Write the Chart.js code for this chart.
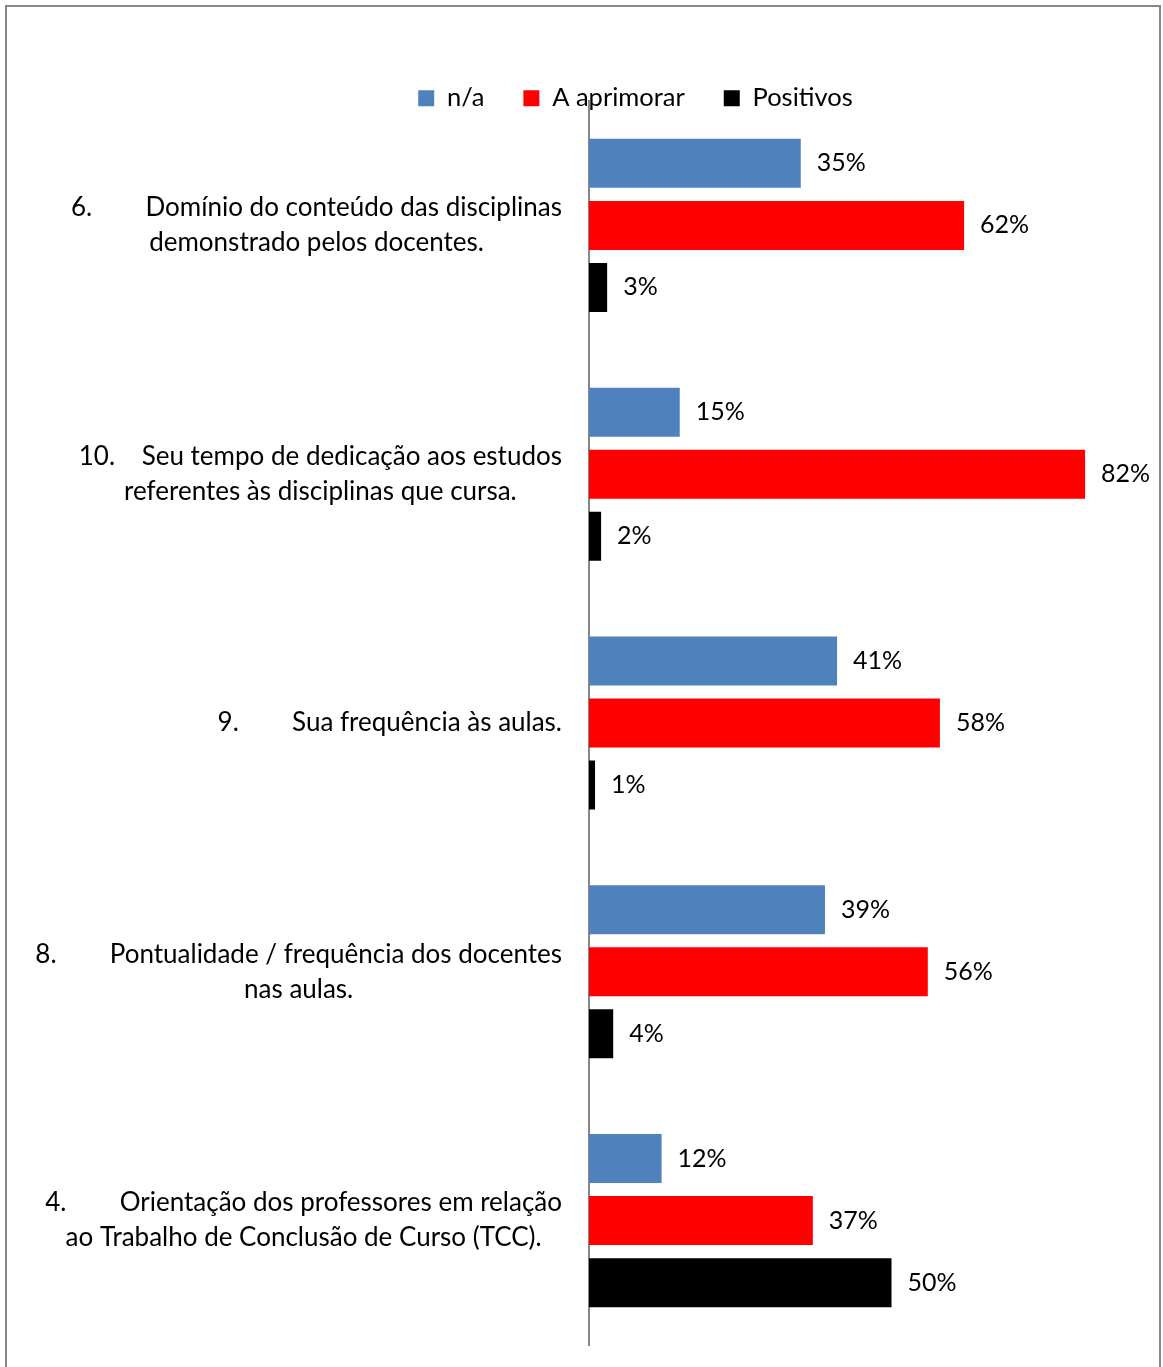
<!DOCTYPE html>
<html>
<head>
<meta charset="utf-8">
<script src="https://cdn.jsdelivr.net/npm/chart.js@4.4.0/dist/chart.umd.min.js"></script>
<style>
html, body { margin: 0; padding: 0; background: #fff; overflow: hidden; }
#frame { position: absolute; left: 5px; top: 5px; width: 1152px; height: 1400px; border: 2px solid #878787; border-bottom: none; }
#wrap { position: absolute; left: 0; top: 0; width: 1163px; height: 1367px; }
</style>
</head>
<body>
<div id="frame"></div>
<div id="wrap"><canvas id="myChart"></canvas></div>
<script>
// categories, top to bottom
var categories = [
    ["6.        Domínio do conteúdo das disciplinas", "demonstrado pelos docentes."],
    ["10.    Seu tempo de dedicação aos estudos", "referentes às disciplinas que cursa."],
    ["9.        Sua frequência às aulas."],
    ["8.        Pontualidade / frequência dos docentes", "nas aulas."],
    ["4.        Orientação dos professores em relação", "ao Trabalho de Conclusão de Curso (TCC)."]
];
var seriesNames = ["n/a", "A aprimorar", "Positivos"];
var naValues = [35, 15, 41, 39, 12];
var aprimorarValues = [62, 82, 58, 56, 37];
var positivosValues = [3, 2, 1, 4, 50];

var FONT = "Lato, 'Open Sans', sans-serif";
var CAT_SIZE = 26;
var VAL_SIZE = 25;

// category labels: block right-aligned, lines centred inside it
var catLabels = {
    id: "catLabels",
    afterDraw: function(chart) {
        var ctx = chart.ctx;
        var y = chart.scales.y;
        var right = chart.chartArea.left - 27;
        var lh = 35;
        ctx.save();
        ctx.font = CAT_SIZE + "px " + FONT;
        ctx.fillStyle = "#000";
        ctx.textAlign = "center";
        ctx.textBaseline = "middle";
        categories.forEach(function(lines, i) {
            var w = 0;
            lines.forEach(function(l){ w = Math.max(w, ctx.measureText(l).width); });
            var cx = right - w / 2;
            var cy = y.getPixelForValue(i);
            var y0 = cy - (lines.length - 1) * lh / 2;
            lines.forEach(function(l, k){ ctx.fillText(l, cx, y0 + k * lh); });
        });
        ctx.restore();
    }
};

// value labels at the end of each bar
var valueLabels = {
    id: "valueLabels",
    afterDatasetsDraw: function(chart) {
        var ctx = chart.ctx;
        ctx.save();
        ctx.font = VAL_SIZE + "px " + FONT;
        ctx.fillStyle = "#000";
        ctx.textAlign = "left";
        ctx.textBaseline = "middle";
        chart.data.datasets.forEach(function(ds, d) {
            chart.getDatasetMeta(d).data.forEach(function(bar, i) {
                ctx.fillText(ds.data[i] + "%", bar.x + 16, bar.y);
            });
        });
        ctx.restore();
    }
};

// legend sits lower, overlapping the top of the plot like the original
var legendShift = {
    id: "legendShift",
    afterLayout: function(chart) {
        chart.legend.top += 20;
        chart.legend.bottom += 20;
    }
};

var myChart = document.getElementById("myChart").getContext("2d");

var chart = new Chart(myChart, {
    type: "bar",
    data: {
        labels: categories,
        datasets: [
            { label: seriesNames[0], data: naValues, backgroundColor: "#4F81BD" },
            { label: seriesNames[1], data: aprimorarValues, backgroundColor: "#FF0000" },
            { label: seriesNames[2], data: positivosValues, backgroundColor: "#000000" }
        ]
    },
    options: {
        indexAxis: "y",
        responsive: true,
        maintainAspectRatio: false,
        animation: false,
        barPercentage: 0.79,
        categoryPercentage: 0.748,
        layout: { padding: { left: 137.5, right: 29.5, top: 26.5, bottom: 22 } },
        scales: {
            x: { display: false, min: 0, max: 90 },
            y: {
                grid: { display: false },
                border: { display: true, color: "#878787", width: 2 },
                ticks: { display: false },
                afterFit: function(scale) { scale.width = 451.5; }
            }
        },
        plugins: {
            legend: {
                position: "top",
                labels: {
                    font: { family: FONT, size: 25.5 },
                    color: "#000",
                    boxWidth: 16,
                    boxHeight: 16,
                    padding: 39
                }
            },
            tooltip: { enabled: false }
        }
    },
    plugins: [catLabels, valueLabels, legendShift]
});
</script>
</body>
</html>
